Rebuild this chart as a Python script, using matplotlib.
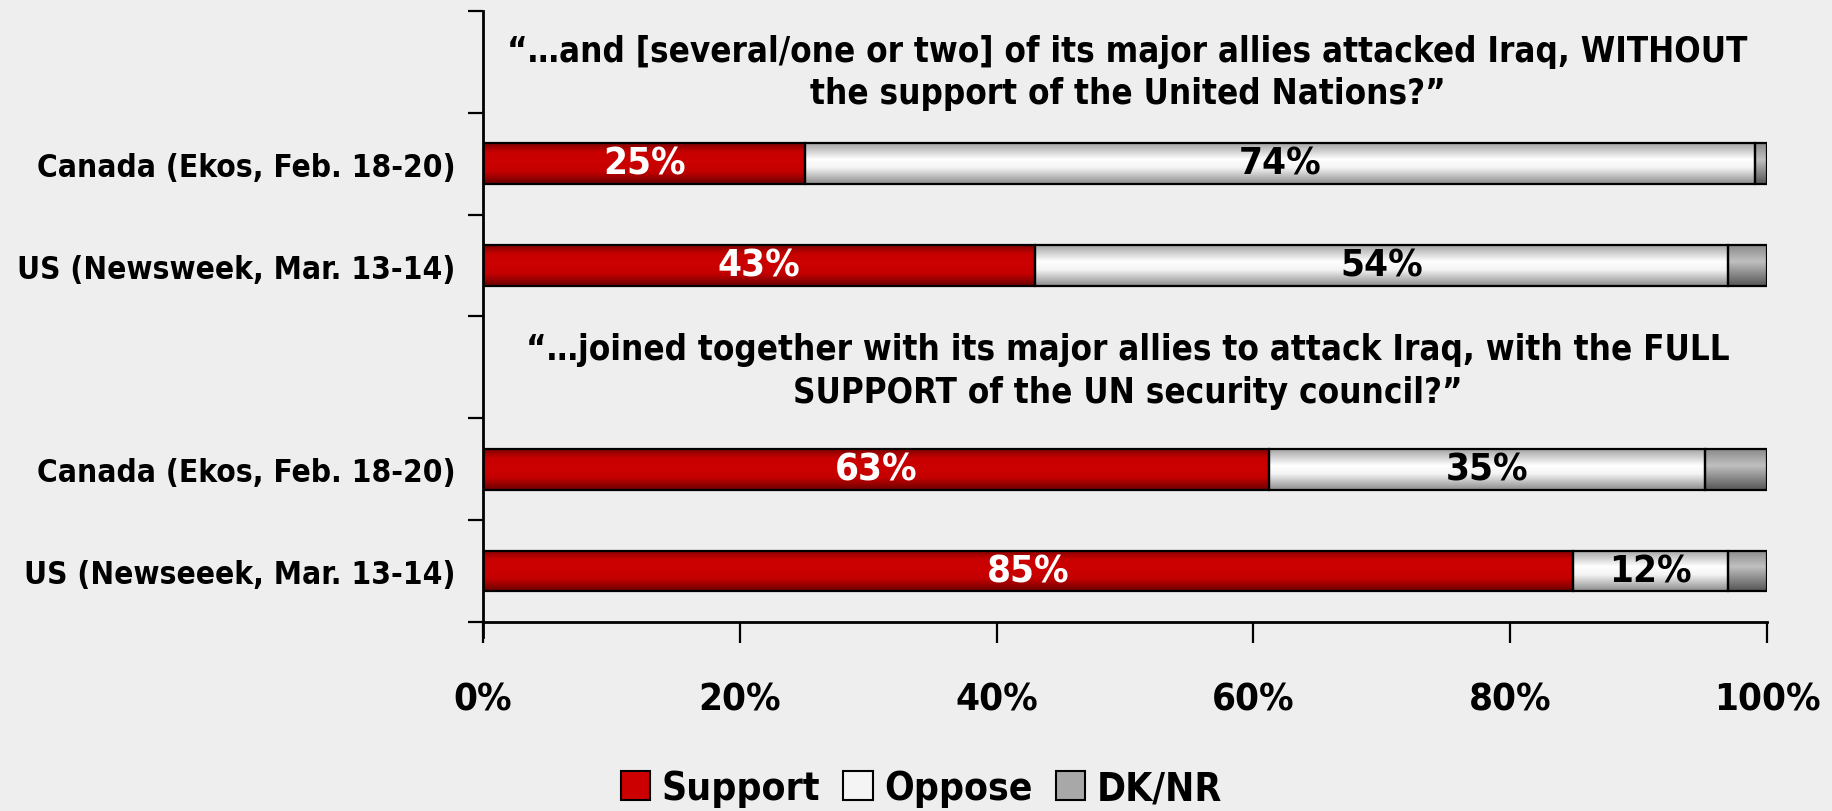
import numpy as np
import matplotlib
matplotlib.use("Agg")
import matplotlib.pyplot as plt
from matplotlib.colors import LinearSegmentedColormap
from matplotlib.patches import Patch

plt.rcParams['font.family'] = ['DejaVu Sans']
plt.rcParams['font.weight'] = 'bold'
plt.rcParams['font.stretch'] = 'condensed'

# ---- data ----
row_labels = ["Canada (Ekos, Feb. 18-20)", "US (Newsweek, Mar. 13-14)",
              "Canada (Ekos, Feb. 18-20)", "US (Newseeek, Mar. 13-14)"]
support = [25.1, 43.0, 61.2, 84.9]
oppose = [74.0, 54.0, 34.0, 12.1]
dknr = [0.9, 3.0, 4.8, 3.0]
support_labels = ["25%", "43%", "63%", "85%"]
oppose_labels = ["74%", "54%", "35%", "12%"]
series_names = ["Support", "Oppose", "DK/NR"]
title_lines = [["\u201c\u2026and [several/one or two] of its major allies attacked Iraq, WITHOUT",
                "the support of the United Nations?\u201d"],
               ["\u201c\u2026joined together with its major allies to attack Iraq, with the FULL",
                "SUPPORT of the UN security council?\u201d"]]
xticks = [0, 20, 40, 60, 80, 100]
xtick_labels = ["0%", "20%", "40%", "60%", "80%", "100%"]

# ---- layout ----
row_pos = [1, 2, 4, 5]
title_pos = [0.1, 3.03]
bar_h = 0.4
BG = "#eeeeee"

fig = plt.figure(figsize=(18.32, 8.12), dpi=100, facecolor=BG)
renderer = fig.canvas.get_renderer()


def fit_size(s, target_px):
    t = fig.text(0, 0, s, fontsize=10, fontweight="bold")
    w = t.get_window_extent(renderer).width
    t.remove()
    return 10.0 * target_px / w


fs_ylab = fit_size("Canada (Ekos, Feb. 18-20)", 418)
fs_title = fit_size(title_lines[0][0], 1235)
fs_val = fit_size("25%", 83)
fs_tick = fit_size("20%", 83)
fs_leg = fit_size("Support", 157)

ax = fig.add_axes([0.2637, 0.2328, 0.9645 - 0.2637, 0.9852 - 0.2328])
ax.set_facecolor(BG)
ax.set_xlim(0, 100)
ax.set_ylim(5.5, -0.5)
ax.set_autoscale_on(False)

cmaps = [
    LinearSegmentedColormap.from_list("red", [(0, "#800000"), (0.22, "#c80000"), (0.45, "#cc0000"),
                                              (0.7, "#c40000"), (1, "#6a0000")]),
    LinearSegmentedColormap.from_list("wht", [(0, "#a4a4a4"), (0.4, "#ffffff"), (0.6, "#f4f4f4"),
                                              (1, "#8c8c8c")]),
    LinearSegmentedColormap.from_list("gry", [(0, "#8a8a8a"), (0.4, "#c0c0c0"), (1, "#555555")]),
]
grad = np.linspace(0, 1, 256).reshape(-1, 1)

left = np.zeros(len(support))
for vals, cm in zip([support, oppose, dknr], cmaps):
    bars = ax.barh(row_pos, vals, left=left, height=bar_h, facecolor="none",
                   edgecolor="black", linewidth=1.6, zorder=3)
    for p in bars.patches:
        x0, y0 = p.get_x(), p.get_y()
        w, h = p.get_width(), p.get_height()
        ax.imshow(grad, cmap=cm, vmin=0, vmax=1, aspect="auto", interpolation="bilinear",
                  extent=[x0, x0 + w, y0 + h, y0], origin="upper", zorder=2)
    left = left + np.array(vals)
ax.set_xlim(0, 100)
ax.set_ylim(5.5, -0.5)

# value labels
for y, s, o, sl, ol in zip(row_pos, support, oppose, support_labels, oppose_labels):
    ax.text(s / 2, y, sl, ha="center", va="center", color="white",
            fontsize=fs_val, fontweight="bold", zorder=5)
    ax.text(s + o / 2, y, ol, ha="center", va="center", color="black",
            fontsize=fs_val, fontweight="bold", zorder=5)

# question titles
em_px = fs_title * 100 / 72
ls = 1.3 * 41.0 / (1.17 * em_px)
for lines, y in zip(title_lines, title_pos):
    ax.text(50.2, y, "\n".join(lines), ha="center", va="center", fontsize=fs_title,
            fontweight="bold", linespacing=ls, color="black")

# axes styling
for s in ["top", "right"]:
    ax.spines[s].set_visible(False)
ax.spines["left"].set_linewidth(2)
ax.spines["bottom"].set_linewidth(2)
ax.spines["left"].set_bounds(5.65, -0.5)

ax.set_yticks(row_pos)
ax.set_yticklabels(row_labels, fontsize=fs_ylab, fontweight="bold")
ax.tick_params(axis="y", length=0, pad=20)
ax.set_yticks(np.arange(-0.5, 5.6, 1.0), minor=True)
ax.tick_params(axis="y", which="minor", length=11, width=1.6, direction="out")

ax.set_xticks(xticks)
ax.set_xticklabels(xtick_labels, fontsize=fs_tick, fontweight="bold")
ax.tick_params(axis="x", length=15, width=1.6, direction="out", pad=28)

handles = [Patch(facecolor="#cc0000", edgecolor="black", linewidth=1.5),
           Patch(facecolor="#f4f4f4", edgecolor="black", linewidth=1.5),
           Patch(facecolor="#a8a8a8", edgecolor="black", linewidth=1.5)]
leg = fig.legend(handles, series_names, loc="center", bbox_to_anchor=(0.503, 0.028),
                 ncol=3, frameon=False, handlelength=0.75, handleheight=0.75,
                 handletextpad=0.3, columnspacing=0.6, prop={"weight": "bold", "size": fs_leg})

fig.savefig("out.png", dpi=100, facecolor=BG)
